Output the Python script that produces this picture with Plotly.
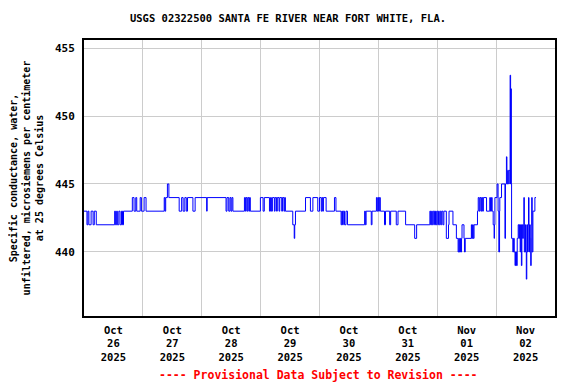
import pandas as pd
import plotly.graph_objects as go

# Change points: hours since 2025-10-26 00:00 and specific conductance (uS/cm)
hours = [
    0, 1.2, 1.6, 2.0, 2.9, 3.7, 4.2, 5.0,
    12.5, 12.8, 13.3, 13.6, 14.2, 14.7, 15.3, 15.7, 16.1,
    19.7, 20.4, 21.1, 21.5, 22.9, 23.4, 24.5, 25.3,
    32.7, 33.0, 33.3, 34.0, 34.6,
    38.8, 39.8, 40.4, 41.1, 41.7, 42.2, 44.4, 45.3, 50.0, 50.2,
    57.9, 58.3, 59.0, 59.5, 59.9, 60.3, 60.7,
    65.4, 65.8, 66.1, 66.5, 66.8, 67.2, 67.5, 67.8,
    71.9, 73.0, 73.5,
    75.6, 76.0, 76.4, 76.8, 77.6, 77.9, 78.5, 78.8, 79.5, 79.8, 80.6, 80.9, 81.5, 81.8, 82.1,
    85.1, 85.7, 85.9, 86.2,
    90.3, 92.3, 93.3, 95.3, 96.0, 96.7, 97.0, 97.3, 97.6, 98.7,
    102.1, 102.7,
    104.8, 105.1, 105.4, 105.7, 106.2, 106.8, 107.4,
    114.4, 114.7, 115.0, 117.1, 117.4,
    119.2, 119.5, 119.8, 120.1, 120.4, 120.8,
    122.5, 122.9, 124.6, 125.0, 127.3, 128.0,
    131.1, 134.8, 135.6,
    141.0, 141.3, 141.7, 142.0, 142.4, 142.9, 143.3, 143.6, 144.0, 144.5, 145.0, 145.4, 145.8, 146.3, 146.7,
    147.7, 148.6, 148.8, 150.4, 151.8, 152.5, 152.8, 153.0, 153.3, 153.5, 153.9, 154.1, 154.9, 155.1, 155.4,
    157.9, 158.1, 158.4, 158.7, 159.0, 160.4, 160.7, 161.1, 161.4, 161.8, 162.1, 162.5, 162.8,
    164.1, 165.4, 165.7, 166.1, 166.4, 166.8, 167.2, 167.3, 167.5,
    168.4, 168.8, 169.1, 169.4, 169.5, 170.2,
    171.6, 171.8, 172.2, 172.4, 172.6, 173.0, 173.6, 173.7, 173.9, 174.0, 174.2,
    174.3, 174.8, 175.1, 175.4, 175.7, 175.9, 176.3, 176.6, 177.0, 177.3, 177.5, 177.8, 178.0,
    178.3, 178.5, 178.8, 179.1, 179.3, 179.5, 179.8, 180.0, 180.3, 180.5, 180.8, 181.0, 181.2,
    181.4, 181.6, 181.9, 182.1, 182.3, 182.5, 182.7, 183.0, 183.8, 184.25,
]
conductance = [
    443, 442, 443, 442, 443, 442, 443, 442,
    443, 442, 443, 442, 443, 442, 443, 442, 443,
    444, 443, 444, 443, 444, 443, 444, 443,
    444, 443, 444, 445, 444,
    443, 444, 443, 444, 443, 444, 443, 444, 443, 444,
    443, 444, 443, 444, 443, 444, 443,
    444, 443, 444, 443, 444, 443, 444, 443,
    444, 443, 444,
    443, 444, 443, 444, 443, 444, 443, 444, 443, 444, 443, 444, 443, 444, 443,
    442, 441, 442, 443,
    444, 443, 444, 443, 444, 443, 444, 443, 444, 443,
    444, 443,
    442, 443, 442, 443, 442, 443, 442,
    443, 442, 443, 442, 443,
    444, 443, 444, 443, 444, 443,
    442, 443, 442, 443, 442, 443,
    442, 441, 442,
    443, 442, 443, 442, 443, 442, 443, 442, 443, 442, 443, 442, 443, 442, 443,
    441, 442, 443, 442, 441, 440, 441, 440, 441, 440, 441, 442, 441, 440, 441,
    442, 441, 442, 441, 442, 443, 444, 443, 444, 443, 444, 443, 444,
    443, 444, 443, 444, 443, 442, 441, 442, 444,
    445, 443, 440, 443, 444, 445,
    441, 445, 447, 446, 445, 446, 445, 453, 445, 452, 445,
    441, 440, 441, 440, 439, 440, 439, 441, 442, 441, 442, 440, 442,
    439, 442, 441, 442, 444, 440, 442, 440, 438, 442, 440, 442, 444,
    440, 442, 441, 439, 442, 444, 440, 443, 444, 444,
]

day_ticks = ["2025-10-26", "2025-10-27", "2025-10-28", "2025-10-29",
             "2025-10-30", "2025-10-31", "2025-11-01", "2025-11-02"]
day_labels = ["Oct<br>26<br>2025", "Oct<br>27<br>2025", "Oct<br>28<br>2025",
              "Oct<br>29<br>2025", "Oct<br>30<br>2025", "Oct<br>31<br>2025",
              "Nov<br>01<br>2025", "Nov<br>02<br>2025"]
y_ticks = [440, 445, 450, 455]

start = pd.Timestamp("2025-10-26 00:00")
x = [start + pd.Timedelta(hours=h) for h in hours]
noon = [pd.Timestamp(d) + pd.Timedelta(hours=12) for d in day_ticks]
midnights = [pd.Timestamp(d) for d in day_ticks] + [pd.Timestamp("2025-11-03")]

FONT = "DejaVu Sans Mono"
# the page body adds an 8px offset; the figure is sized to fit inside it
W, H = 568, 376

fig = go.Figure()
fig.add_trace(go.Scatter(x=x, y=conductance, mode="lines",
                         line=dict(color="#0000ff", width=1, shape="hv"),
                         hoverinfo="skip", showlegend=False))

fig.update_layout(
    width=W, height=H,
    margin=dict(l=76, r=21, t=32, b=68),
    paper_bgcolor="white", plot_bgcolor="white",
    font=dict(family=FONT, color="black"),
    title=dict(text="<b>USGS 02322500 SANTA FE RIVER NEAR FORT WHITE, FLA.</b>",
               x=(288 - 8) / W, xanchor="center", y=1 - 10 / H, yanchor="middle",
               font=dict(family=FONT, size=10.5, color="black")),
    xaxis=dict(
        range=[start, pd.Timestamp("2025-11-03")],
        tickmode="array", tickvals=noon, ticktext=["<b>" + t + "</b>" for t in day_labels],
        showgrid=False, ticks="", ticklabelstandoff=3,
        tickfont=dict(family=FONT, size=10.5, color="black"),
        minor=dict(tickmode="array", tickvals=midnights, showgrid=True,
                   gridcolor="#cccccc", gridwidth=1, ticks=""),
        showline=True, linecolor="black", linewidth=2, mirror=True,
        zeroline=False, automargin=False,
    ),
    yaxis=dict(
        range=[435.29, 455.59],
        tickmode="array", tickvals=y_ticks, ticktext=["<b>%d</b>" % v for v in y_ticks],
        showgrid=True, gridcolor="#cccccc", gridwidth=1, ticks="",
        ticklabelstandoff=5,
        tickfont=dict(family=FONT, size=11, color="black"),
        title=dict(text="<b>Specific conductance, water,<br>unfiltered, microsiemens per centimeter<br>at 25 degrees Celsius</b>",
                   font=dict(family=FONT, size=10, color="black"), standoff=12),
        showline=True, linecolor="black", linewidth=2, mirror=True,
        zeroline=False, automargin=False,
    ),
    annotations=[dict(
        text="<b>---- Provisional Data Subject to Revision ----</b>",
        xref="paper", yref="paper", x=(318 - 84) / 471, y=(316 - 375) / 276,
        xanchor="center", yanchor="middle", showarrow=False,
        font=dict(family=FONT, size=11.5, color="#ff0000"),
    )],
)

fig.write_html("out.html")
